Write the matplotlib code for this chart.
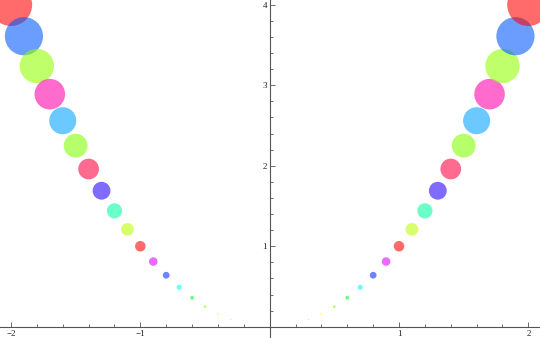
import colorsys

import matplotlib
matplotlib.use("Agg")
import matplotlib.pyplot as plt
from matplotlib.ticker import MultipleLocator, FixedLocator

# bubble data: x, y and bubble weight (weight equals y)
xs = [-2.0, -1.9, -1.8, -1.7, -1.6, -1.5, -1.4, -1.3, -1.2, -1.1,
      -1.0, -0.9, -0.8, -0.7, -0.6, -0.5, -0.4, -0.3, -0.2, -0.1,
      0.1, 0.2, 0.3, 0.4, 0.5, 0.6, 0.7, 0.8, 0.9, 1.0,
      1.1, 1.2, 1.3, 1.4, 1.5, 1.6, 1.7, 1.8, 1.9, 2.0]
ys = [4.00, 3.61, 3.24, 2.89, 2.56, 2.25, 1.96, 1.69, 1.44, 1.21,
      1.00, 0.81, 0.64, 0.49, 0.36, 0.25, 0.16, 0.09, 0.04, 0.01,
      0.01, 0.04, 0.09, 0.16, 0.25, 0.36, 0.49, 0.64, 0.81, 1.00,
      1.21, 1.44, 1.69, 1.96, 2.25, 2.56, 2.89, 3.24, 3.61, 4.00]
weights = ys

x_ticks = [-2, -1, 1, 2]
x_tick_labels = ["\u22122", "\u22121", "1", "2"]
y_ticks = [1, 2, 3, 4]
y_tick_labels = ["1", "2", "3", "4"]

# hue cycles with the fractional part of the weight
colors = []
for w in weights:
    h = w % 1.0
    colors.append(colorsys.hsv_to_rgb(h, 1.0, 1.0))

sizes = [58.0 * w * w for w in weights]

fig = plt.figure(figsize=(5.4, 3.38), dpi=100)
ax = fig.add_axes([0, 0, 1, 1])

ax.scatter(xs, ys, s=sizes, c=colors, alpha=0.58, linewidths=0, zorder=2)

ax.set_xlim(-2.085, 2.09)
ax.set_ylim(-0.14, 4.06)

for side in ["top", "right"]:
    ax.spines[side].set_visible(False)
ax.spines["left"].set_position(("data", 0))
ax.spines["bottom"].set_position(("data", 0))
for side in ["left", "bottom"]:
    ax.spines[side].set_color("#555555")
    ax.spines[side].set_linewidth(0.8)
    ax.spines[side].set_zorder(1)

ax.xaxis.set_major_locator(FixedLocator(x_ticks))
ax.set_xticklabels(x_tick_labels)
ax.xaxis.set_minor_locator(MultipleLocator(0.2))
ax.yaxis.set_major_locator(FixedLocator(y_ticks))
ax.set_yticklabels(y_tick_labels)
ax.yaxis.set_minor_locator(MultipleLocator(0.2))

ax.tick_params(which="both", direction="in", color="#555555", width=0.6,
               labelsize=6.5, pad=2)
ax.tick_params(which="major", length=3.5)
ax.tick_params(which="minor", length=2)
for lab in ax.get_xticklabels() + ax.get_yticklabels():
    lab.set_family(["Liberation Serif", "DejaVu Serif"])
    lab.set_color("#222222")

fig.savefig("out.png", dpi=100)
